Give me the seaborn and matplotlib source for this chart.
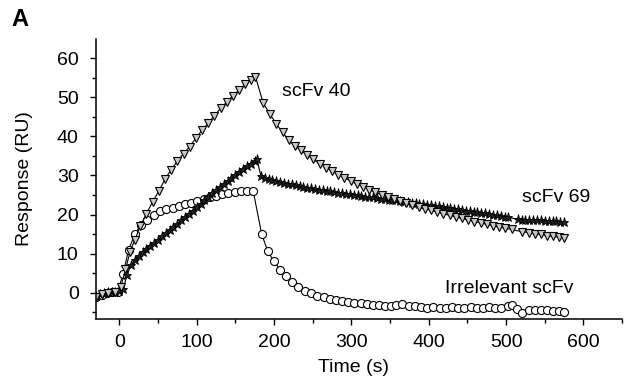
import matplotlib
matplotlib.use("Agg")
import matplotlib.pyplot as plt
import seaborn as sns
from matplotlib.ticker import MultipleLocator

# scFv 40 (open grey triangles)
t_40 = [-30, -22, -14, -6, 2, 8, 14, 20, 27, 35, 43, 51, 59, 67, 75, 83, 91, 99,
        107, 115, 123, 131, 139, 147, 155, 163, 170, 176, 186, 195, 203, 211, 219,
        227, 235, 243, 251, 259, 267, 275, 283, 291, 299, 307, 315, 323, 331, 339,
        347, 355, 363, 371, 379, 387, 395, 403, 411, 419, 427, 435, 443, 451, 459,
        467, 475, 483, 491, 499, 507, 521, 529, 537, 545, 553, 561, 569, 575]
ru_40 = [-1.0, -0.4, 0.0, 0.2, 1.5, 6.0, 10.5, 13.5, 17.0, 20.2, 23.2, 26.0, 29.0,
         31.5, 33.6, 35.6, 37.4, 39.5, 41.6, 43.4, 45.3, 47.2, 48.8, 50.4, 51.9,
         53.3, 54.5, 55.3, 48.5, 45.6, 43.2, 41.0, 39.1, 37.6, 36.4, 35.2, 34.1,
         33.0, 32.0, 31.1, 30.2, 29.4, 28.6, 27.8, 27.1, 26.4, 25.7, 25.1, 24.5,
         24.0, 23.4, 22.9, 22.4, 21.9, 21.5, 21.1, 20.6, 20.2, 19.8, 19.4, 19.0,
         18.6, 18.2, 17.9, 17.5, 17.1, 16.8, 16.5, 16.2, 15.6, 15.4, 15.1, 14.9,
         14.6, 14.4, 14.2, 14.0]

# scFv 69 (stars)
t_69 = [-30, -25, -20, -15, -10, -5, 0, 5, 10, 15, 20, 25, 30, 35, 40, 45, 50, 55,
        60, 65, 70, 75, 80, 85, 90, 95, 100, 105, 110, 115, 120, 125, 130, 135,
        140, 145, 150, 155, 160, 165, 170, 175, 178, 183, 188, 193, 198, 203, 208,
        213, 218, 223, 228, 233, 238, 243, 248, 253, 258, 263, 268, 273, 278, 283,
        288, 293, 298, 303, 308, 313, 318, 323, 328, 333, 338, 343, 348, 353, 358,
        363, 368, 373, 378, 383, 388, 393, 398, 403, 408, 413, 418, 423, 428, 433,
        438, 443, 448, 453, 458, 463, 468, 473, 478, 483, 488, 493, 498, 503, 515,
        520, 525, 530, 535, 540, 545, 550, 555, 560, 565, 570, 575]
ru_69 = [-0.8, -0.4, -0.1, 0.1, 0.2, 0.3, 0.5, 1.0, 4.6, 7.0, 8.5, 9.4, 10.3, 11.2,
         12.0, 12.8, 13.6, 14.4, 15.2, 16.0, 16.8, 17.6, 18.5, 19.3, 20.2, 21.0,
         21.9, 22.8, 23.7, 24.6, 25.5, 26.3, 27.1, 27.9, 28.6, 29.4, 30.1, 30.8,
         31.6, 32.3, 33.0, 33.8, 34.1, 29.9, 29.4, 29.1, 28.8, 28.6, 28.4, 28.1,
         27.9, 27.7, 27.5, 27.3, 27.1, 26.9, 26.8, 26.6, 26.4, 26.2, 26.1, 25.9,
         25.8, 25.6, 25.5, 25.3, 25.2, 25.0, 24.9, 24.8, 24.6, 24.5, 24.4, 24.2,
         24.1, 23.9, 23.8, 23.7, 23.6, 23.4, 23.3, 23.2, 23.0, 22.9, 22.8, 22.6,
         22.5, 22.4, 22.2, 22.1, 21.9, 21.8, 21.6, 21.5, 21.3, 21.2, 21.0, 20.9,
         20.7, 20.6, 20.4, 20.3, 20.1, 19.9, 19.8, 19.6, 19.5, 19.3, 18.8, 18.7,
         18.7, 18.6, 18.6, 18.5, 18.5, 18.4, 18.4, 18.3, 18.3, 18.2, 18.2]

# Irrelevant scFv (open circles)
t_irr = [-30, -23, -16, -9, -2, 5, 12, 20, 28, 36, 45, 53, 61, 69, 77, 85, 93, 101,
         109, 117, 125, 133, 141, 149, 157, 165, 173, 184, 192, 200, 208, 215, 223,
         231, 240, 248, 256, 264, 272, 280, 288, 296, 304, 312, 320, 328, 336, 344,
         351, 358, 366, 374, 382, 390, 398, 406, 414, 422, 430, 438, 446, 454, 462,
         470, 478, 486, 494, 502, 507, 514, 521, 529, 537, 545, 553, 561, 569, 575]
ru_irr = [-1.0, -0.5, -0.1, 0.1, 0.3, 4.9, 11.0, 14.9, 17.4, 18.7, 20.0, 20.8, 21.3,
          21.8, 22.1, 22.6, 23.0, 23.5, 24.0, 24.4, 24.8, 25.2, 25.5, 25.8, 26.0,
          26.1, 26.1, 15.0, 10.6, 8.0, 5.9, 4.2, 2.7, 1.5, 0.5, -0.1, -0.7, -1.2,
          -1.5, -1.8, -2.0, -2.3, -2.5, -2.7, -2.8, -3.0, -3.1, -3.3, -3.5, -3.0,
          -2.8, -3.5, -3.3, -3.7, -3.8, -3.7, -3.8, -3.8, -3.7, -3.9, -3.8, -3.7,
          -3.9, -3.8, -3.7, -3.9, -3.8, -3.5, -3.2, -4.2, -5.1, -4.4, -4.4, -4.3,
          -4.5, -4.6, -4.7, -4.8]

labels = ["scFv 40", "scFv 69", "Irrelevant scFv"]
label_pos = [(210, 51.5), (521, 24.4), (421, 1.0)]

sns.set_style("ticks")
plt.rcParams["font.family"] = ["Liberation Sans", "DejaVu Sans"]
plt.rcParams.update({"text.color": "black", "axes.labelcolor": "black",
                     "xtick.color": "black", "ytick.color": "black"})

fig, ax = plt.subplots(figsize=(6.24, 3.82), dpi=100)
fig.subplots_adjust(left=0.154, right=0.997, bottom=0.165, top=0.898)

line_kw = dict(color="black", linewidth=0.8, sort=False, ax=ax, legend=False)
sns.lineplot(x=t_irr, y=ru_irr, marker="o", markersize=5.8,
             markerfacecolor="white", markeredgecolor="black",
             markeredgewidth=0.8, **line_kw)
sns.lineplot(x=t_69, y=ru_69, marker="*", markersize=6.5,
             markerfacecolor="#222222", markeredgecolor="black",
             markeredgewidth=0.6, **line_kw)
sns.lineplot(x=t_40, y=ru_40, marker="v", markersize=5.6,
             markerfacecolor="#c8c8c8", markeredgecolor="black",
             markeredgewidth=0.8, **line_kw)

for text, (x, y) in zip(labels, label_pos):
    ax.text(x, y, text, fontsize=14, ha="left", va="center")

ax.set_xlim(-30, 650)
ax.set_ylim(-6.7, 64.9)
ax.xaxis.set_major_locator(MultipleLocator(100))
ax.xaxis.set_minor_locator(MultipleLocator(50))
ax.yaxis.set_major_locator(MultipleLocator(10))
ax.yaxis.set_minor_locator(MultipleLocator(5))
ax.tick_params(which="major", length=4.5, width=1.0, labelsize=14)
ax.tick_params(axis="y", which="major", pad=8)
ax.tick_params(axis="x", which="major", pad=6)
ax.tick_params(which="minor", length=3, width=1.0)
sns.despine(ax=ax)
for side in ("left", "bottom"):
    ax.spines[side].set_linewidth(1.1)
    ax.spines[side].set_color("black")

ax.set_xlabel("Time (s)", fontsize=14)
ax.set_ylabel("Response (RU)", fontsize=14)
ax.xaxis.set_label_coords(0.49, -0.175)
ax.xaxis.label.set_va("center")
ax.yaxis.set_label_coords(-0.137, 0.5)
ax.yaxis.label.set_va("center")

fig.text(0.019, 0.948, "A", fontsize=17, fontweight="bold", va="center", ha="left")

fig.savefig("out.png", dpi=100)
